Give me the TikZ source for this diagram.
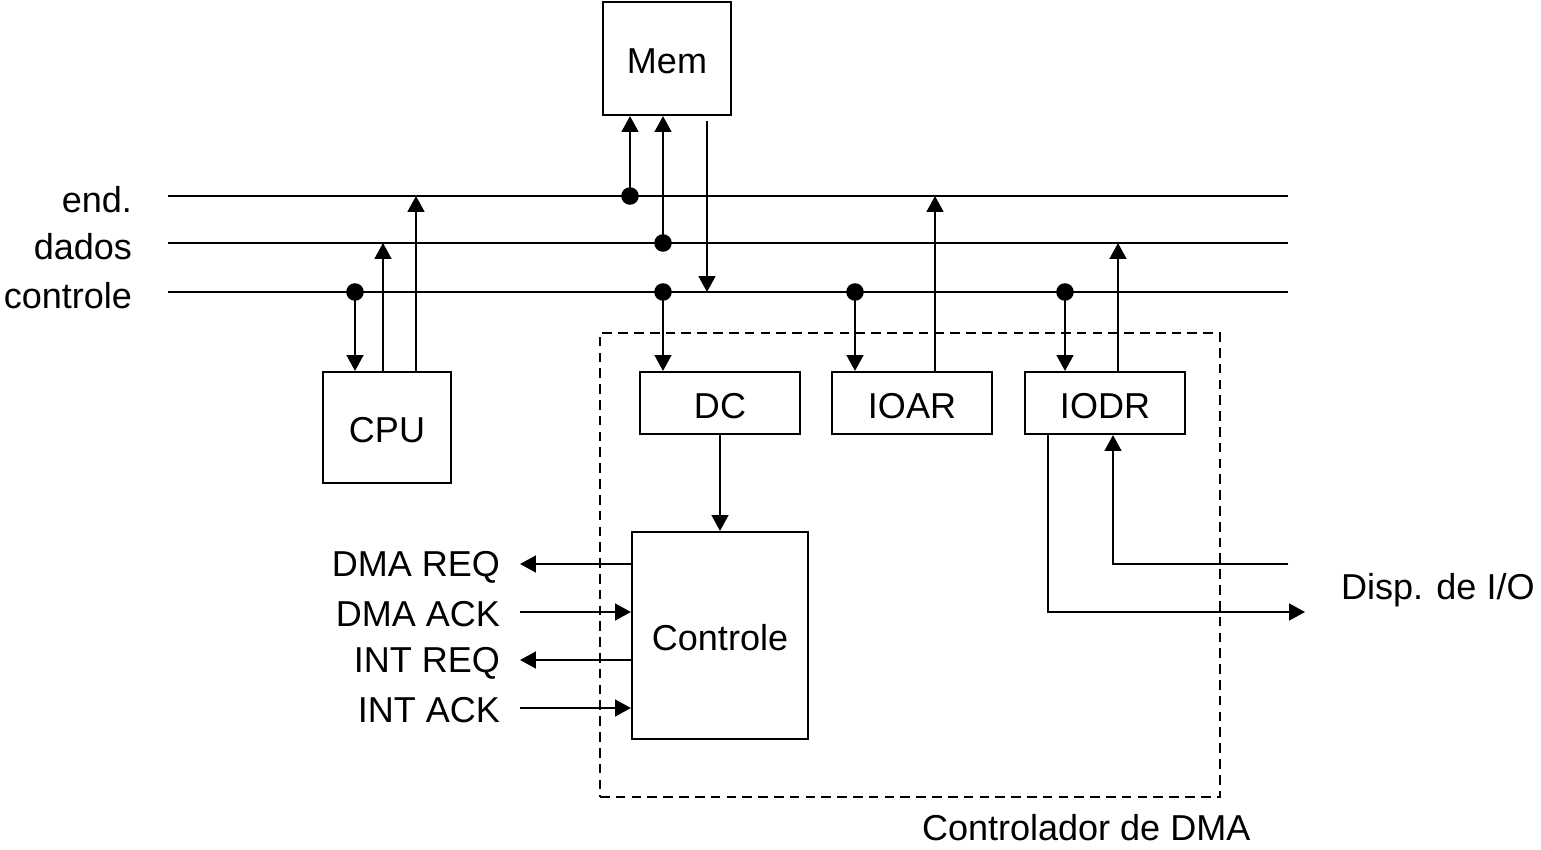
\documentclass[tikz,border=0pt]{standalone}
\usepackage{fontspec}
\setmainfont{Liberation Sans}
\usetikzlibrary{arrows.meta}
\begin{document}
\begin{tikzpicture}[x=0.02cm,y=-0.02cm,
  line width=1.2pt,
  font=\fontsize{20.5}{24}\selectfont,
  box/.style n args={2}{draw,inner sep=0pt,minimum width={#1*0.02cm},minimum height={#2*0.02cm},text height=17.5pt,text depth=0pt},
  arr/.style={-{Triangle[length=9pt,width=9.5pt]}},
  tap/.style={circle,fill,inner sep=0pt,minimum size=10pt},
  lbl/.style={anchor=east,inner sep=0pt},
  bus/.style={line width=1.2pt}]
\useasboundingbox (0,0) rectangle (1541,849);

% blocks
\node[box={128}{113}] (mem) at (667,58.5) {Mem};
\node[box={128}{111}] (cpu) at (387,427.5) {CPU};
\node[box={160}{62}] (dc) at (720,403) {DC};
\node[box={160}{62}] (ioar) at (912,403) {IOAR};
\node[box={160}{62}] (iodr) at (1105,403) {IODR};
\node[box={176}{207}] (ctl) at (720,635.5) {Controle};
\node[draw,dashed,dash pattern=on 5.5pt off 3.5pt,line width=1.2pt,inner sep=0pt,
      minimum width={620*0.02cm},minimum height={464*0.02cm}] (dma) at (910,565) {};

% system buses
\coordinate (endL) at (168,196);  \coordinate (endR) at (1288,196);
\coordinate (datL) at (168,243);  \coordinate (datR) at (1288,243);
\coordinate (ctlL) at (168,292);  \coordinate (ctlR) at (1288,292);
\draw[bus] (endL) -- (endR);
\draw[bus] (datL) -- (datR);
\draw[bus] (ctlL) -- (ctlR);
\node[lbl] (lend) at (133,200) {end.};
\node[lbl] (ldat) at (133,247) {dados};
\node[lbl] (lctl) at (133,296) {controle};

% bus taps
\node[tap] (t1) at (355,292) {};
\node[tap] (t2) at (630,196) {};
\node[tap] (t3) at (663,243) {};
\node[tap] (t4) at (663,292) {};
\node[tap] (t5) at (855,292) {};
\node[tap] (t6) at (1065,292) {};
\coordinate (u1) at (383,243);
\coordinate (u2) at (416,196);
\coordinate (u3) at (707,292);
\coordinate (u4) at (935,196);
\coordinate (u5) at (1118,243);

% CPU connections
\draw[arr] (t1.center) -- (t1 |- cpu.north);
\draw[arr] (u1 |- cpu.north) -- (u1);
\draw[arr] (u2 |- cpu.north) -- (u2);

% memory connections
\draw[arr] (t2.center) -- (t2 |- mem.south);
\draw[arr] (t3.center) -- (t3 |- mem.south);
\draw[arr] ([yshift=-3pt]u3 |- mem.south) -- (u3);

% DMA controller registers
\draw[arr] (t4.center) -- (t4 |- dc.north);
\draw[arr] (t5.center) -- (t5 |- ioar.north);
\draw[arr] (u4 |- ioar.north) -- (u4);
\draw[arr] (t6.center) -- (t6 |- iodr.north);
\draw[arr] (u5 |- iodr.north) -- (u5);
\draw[arr] (dc.south) -- (ctl.north);

% handshake lines
\coordinate (s1) at (520,564);
\coordinate (s2) at (520,612);
\coordinate (s3) at (520,660);
\coordinate (s4) at (520,708);
\draw[arr] (s1 -| ctl.west) -- (s1);
\draw[arr] (s2) -- (s2 -| ctl.west);
\draw[arr] (s3 -| ctl.west) -- (s3);
\draw[arr] (s4) -- (s4 -| ctl.west);
\node[lbl] (ldreq) at (501,567) {DMA REQ};
\node[lbl] (ldack) at (501,614) {DMA ACK};
\node[lbl] (lireq) at (501,663) {INT REQ};
\node[lbl] (liack) at (501,710) {INT ACK};

% I/O device lines
\coordinate (o1) at (1048,612);
\coordinate (o2) at (1305,612);
\coordinate (i1) at (1288,564);
\coordinate (i2) at (1113,564);
\draw[arr] (o1 |- iodr.south) -- (o1) -- (o2);
\draw[arr] (i1) -- (i2) -- (i2 |- iodr.south);
\node[anchor=west,inner sep=0pt] (dev) at (1340,590) {Disp. de I/O};
\node[anchor=west,inner sep=0pt] (dmalbl) at (921,828) {Controlador de DMA};
\end{tikzpicture}
\end{document}
